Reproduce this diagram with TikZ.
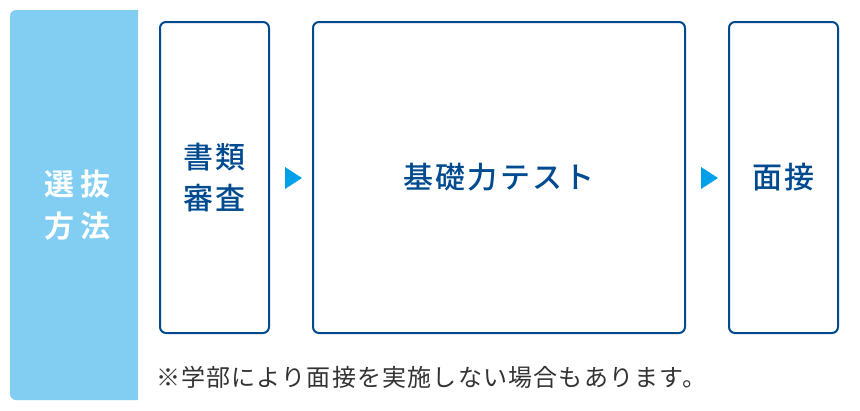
\documentclass[tikz,border=0pt]{standalone}
\usepackage{fontspec}
\newfontfamily\jpbold[LetterSpace=8]{Noto Sans CJK JP Medium}
\newfontfamily\jpwide[LetterSpace=20]{Noto Sans CJK JP Bold}
\newfontfamily\jpnote[LetterSpace=5]{Noto Sans CJK JP}
\definecolor{panelblue}{HTML}{82CEF2}
\definecolor{boxblue}{HTML}{004A8F}
\definecolor{triblue}{HTML}{00A0E9}
\definecolor{notegray}{HTML}{333333}

\begin{document}
\begin{tikzpicture}[x=1pt,y=-1pt,
    stage/.style={draw=boxblue, line width=2pt, rounded corners=6pt,
        minimum height=311pt, inner sep=0pt, text=boxblue, align=center,
        font=\jpbold\fontsize{30}{41}\selectfont},
    tri/.style={fill=triblue}]
    \useasboundingbox (0,0) rectangle (860,410);
    \fill[panelblue] (138,10) [rounded corners=6pt] -- (10,10) -- (10,400)
        [sharp corners] -- (138,400) -- cycle;
    \node (M) at (78,205) [text=white, align=center,
        font=\jpwide\fontsize{30}{42}\selectfont] {選抜\\方法};
    \node[stage, minimum width=109pt] (S1) at (214.5,177.5) {書類\\審査};
    \node[stage, minimum width=372pt] (S2) at (499,177.5) {基礎力テスト};
    \node[stage, minimum width=109pt] (S3) at (783.5,177.5) {面接};
    \coordinate (T1) at (293.5,178);
    \coordinate (T2) at (709.5,178);
    \fill[tri] (T1) ++(-8.5,-11) -- ++(17,11) -- ++(-17,11) -- cycle;
    \fill[tri] (T2) ++(-8.5,-11) -- ++(17,11) -- ++(-17,11) -- cycle;
    \node (N) at (156,377) [anchor=west, inner sep=0pt, text=notegray,
        font=\jpnote\fontsize{24}{28}\selectfont]
        {※学部により面接を実施しない場合もあります。};
\end{tikzpicture}
\end{document}
